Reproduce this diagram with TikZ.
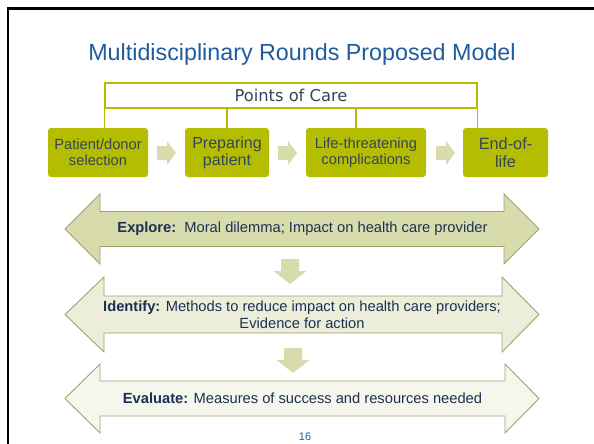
\documentclass[tikz,border=0pt]{standalone}
\usepackage{fontspec}
\setmainfont{Liberation Sans}
\newfontfamily\pocfont{DejaVu Sans}
\usetikzlibrary{calc,positioning}
\definecolor{titleblue}{RGB}{31,92,155}
\definecolor{olive}{RGB}{181,189,0}
\definecolor{slate}{RGB}{52,70,92}
\definecolor{navy}{RGB}{28,48,84}
\definecolor{sage}{RGB}{216,220,172}
\definecolor{sageline}{RGB}{158,163,110}
\definecolor{sagelight}{RGB}{236,238,218}
\definecolor{sagepale}{RGB}{245,246,236}
\newcommand{\textsize}[2]{\fontsize{#1}{#2}\selectfont}
\newcommand{\makerightarrow}[1]{
	\fill[sage] (#1) ++(0,-7) -- ++(10,0) -- ++(0,-5) -- ++(9,12) -- ++(-9,12) -- ++(0,-5) -- ++(-10,0) -- cycle;
}
\newcommand{\makedownarrow}[1]{
	\fill[sage] (#1) ++(-9,0) -- ++(0,12) -- ++(-7.5,0) -- ++(16.5,13) -- ++(16.5,-13) -- ++(-7.5,0) -- ++(0,-12) -- cycle;
}
\newcommand{\makebigarrow}[6]{
	\filldraw[fill=#6, draw=sageline, line width=0.9pt]
		(65,#1) -- (#4,#1-#3) -- (#4,#1-#2) -- (#5,#1-#2) -- (#5,#1-#3) -- (539,#1)
		-- (#5,#1+#3) -- (#5,#1+#2) -- (#4,#1+#2) -- (#4,#1+#3) -- cycle;
}
\tikzset{
	stagebox/.style={fill=olive, rounded corners=3pt, inner sep=0pt, text=slate, align=center, minimum height=49pt},
	arrowtext/.style={text=navy, align=center, font=\textsize{14.7}{17}}
}

\begin{document}
\begin{tikzpicture}[x=1pt,y=-1pt]
	\useasboundingbox (0,0) rectangle (594,444);
	\draw[line width=2.5pt] (7.8,444) -- (7.8,8.3) -- (594,8.3);

	\node[anchor=base, text=titleblue, font=\textsize{23.3}{28}] (title) at (302,60) {Multidisciplinary Rounds Proposed Model};

	\node[draw=olive, line width=1.2pt, minimum width=372pt, minimum height=25pt, inner sep=0pt, text=slate, font=\pocfont\textsize{16.3}{19}] (care) at (291,95.5) {Points of Care};

	\node[stagebox, minimum width=100pt, font=\textsize{14.7}{16}] (select) at (98,152.5) {Patient/donor\\selection};
	\node[stagebox, minimum width=84pt, font=\textsize{16}{17}] (prepare) at (227,152.5) {Preparing\\patient};
	\node[stagebox, minimum width=120pt, font=\textsize{14.7}{16}] (threat) at (366,152.5) {Life-threatening\\complications};
	\node[stagebox, minimum width=85pt, font=\textsize{16.3}{18}] (endlife) at (505.5,152.5) {End-of-\\life};

	\draw[olive, line width=1.2pt] (care.south west) -- (care.south west |- select.north);
	\draw[olive, line width=1.2pt] (prepare.north |- care.south) -- (prepare.north);
	\draw[olive, line width=1.2pt] ([xshift=-10pt]threat.north |- care.south) -- ([xshift=-10pt]threat.north);
	\draw[olive, line width=1.2pt] (care.south east) -- (care.south east |- endlife.north);

	\coordinate (arr1) at (157,153);
	\coordinate (arr2) at (278,153);
	\coordinate (arr3) at (436,153);
	\makerightarrow{arr1}
	\makerightarrow{arr2}
	\makerightarrow{arr3}

	\makebigarrow{229}{17.5}{35}{100}{504}{sage}
	\makebigarrow{314.5}{18.5}{37.5}{104}{502}{sagelight}
	\makebigarrow{398.5}{17.5}{34.5}{100}{505}{sagepale}

	\coordinate (down1) at (290,259);
	\coordinate (down2) at (293,348);
	\makedownarrow{down1}
	\makedownarrow{down2}

	\node[arrowtext] (explore) at (302.5,229) {\textbf{Explore:}\ \ Moral dilemma; Impact on health care provider};
	\node[arrowtext] (identify) at (302,314.5) {\textbf{Identify:} Methods to reduce impact on health care providers;\\Evidence for action};
	\node[arrowtext] (evaluate) at (302.5,398.5) {\textbf{Evaluate:} Measures of success and resources needed};

	\node[text=titleblue, font=\textsize{11}{13}] (page) at (305,437) {16};
\end{tikzpicture}
\end{document}
